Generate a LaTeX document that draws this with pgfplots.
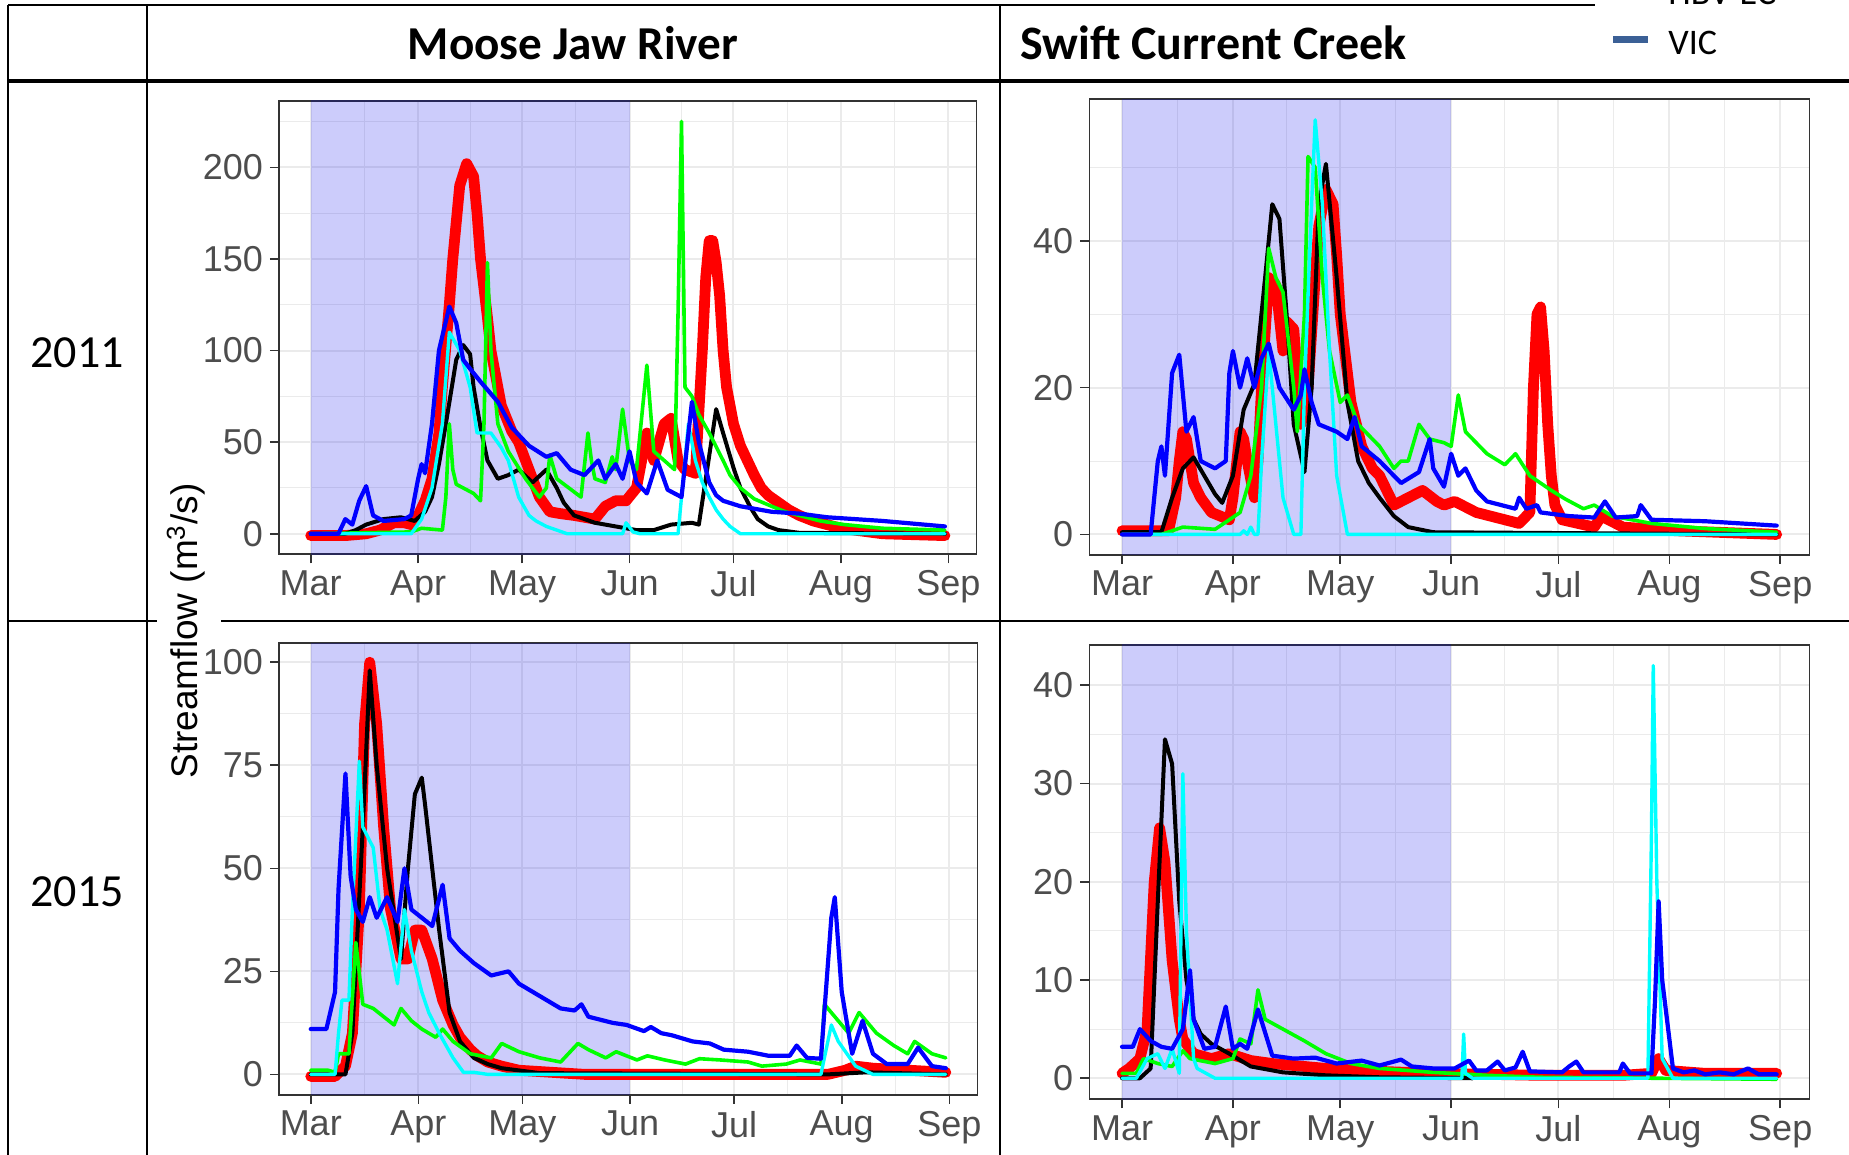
\documentclass[border=0pt]{standalone}
\usepackage{fontspec}
\setmainfont{Liberation Sans}
\newfontfamily\carlito{Carlito}
\usepackage{pgfplots}
\pgfplotsset{compat=1.18}
\definecolor{gray20}{RGB}{51,51,51}
\definecolor{gray30}{RGB}{77,77,77}
\definecolor{gridc}{RGB}{235,235,235}
\definecolor{vicblue}{RGB}{59,96,150}
\definecolor{shade}{RGB}{0,0,235}
\definecolor{lgreen}{RGB}{0,255,0}
\definecolor{lcyan}{RGB}{0,255,255}
\definecolor{lblue}{RGB}{0,0,255}
\definecolor{lred}{RGB}{255,0,0}
\pgfplotsset{
  panel/.style={
    scale only axis, anchor=north west,
    xmin=-9.15, xmax=192.15,
    axis line style={draw=gray20, line width=0.8pt},
    xtick={0,31,61,92,122,153,184},
    xticklabels={Mar,Apr,May,Jun,Jul,Aug,Sep},
    minor xtick={15.5,46,76.5,107,137.5,168.5},
    grid=both,
    major grid style={draw=gridc, line width=1pt},
    minor grid style={draw=gridc, line width=0.5pt},
    tick align=outside, tick pos=left,
    major tick length=4.5pt, minor tick length=0pt,
    major tick style={draw=gray20, line width=0.8pt},
    ticklabel style={font=\fontsize{18}{20}\selectfont, text=gray30},
    /pgf/number format/assume math mode=true,
    every axis plot/.append style={line join=round, line cap=round},
  },
  shadeplot/.style={draw=none, fill=shade, fill opacity=0.2, forget plot},
  obs/.style={lred, line width=5.4pt},
  sblack/.style={black, line width=2pt},
  sgreen/.style={lgreen, line width=1.8pt},
  scyan/.style={lcyan, line width=1.7pt},
  sblue/.style={lblue, line width=2.1pt},
}
\begin{document}
\begin{tikzpicture}[x=0.5pt,y=0.5pt]
\useasboundingbox (0,0) rectangle (1849,1155);
\clip (0,0) rectangle (1849,1155);
% table grid
\draw[line width=1pt] (8,1150) -- (1595,1150);
\draw[line width=1pt] (8,1150) -- (8,-5);
\draw[line width=1pt] (146.7,1150) -- (146.7,-5);
\draw[line width=1pt] (1000,1150) -- (1000,-5);
\draw[line width=1pt] (8,534) -- (157,534);
\draw[line width=1pt] (221,534) -- (1855,534);
% legend (cut off)
\fill[white] (1595,1077) rectangle (1855,1160);
\draw[vicblue, line width=3.5pt] (1613,1115) -- (1648,1115);
\node[anchor=base west, inner sep=0pt, font=\carlito\fontsize{18}{20}\selectfont] at (1668,1100) {VIC};
\node[anchor=base west, inner sep=0pt, font=\carlito\fontsize{18}{20}\selectfont] at (1668,1150) {HBV-EC};
\draw[line width=2pt] (8,1074) -- (1855,1074);
% headers
\node[anchor=base, inner sep=0pt, font=\carlito\bfseries\fontsize{23.6}{26}\selectfont] at (573,1095) {Moose Jaw River};
\node[anchor=base west, inner sep=0pt, font=\carlito\bfseries\fontsize{24}{26}\selectfont] at (1020,1095) {Swift Current Creek};
\node[anchor=base, inner sep=0pt, font=\carlito\fontsize{23}{25}\selectfont] at (77,787) {2011};
\node[anchor=base, inner sep=0pt, font=\carlito\fontsize{23}{25}\selectfont] at (77,248.5) {2015};
\node[rotate=90, inner sep=0pt, font=\fontsize{18.5}{20}\selectfont] at (186,524) {Streamflow (m\textsuperscript{3}/s)};

% ---------------- Moose Jaw 2011
\begin{axis}[panel, at={(139.5pt,527pt)}, width=348.8pt, height=226.65pt,
  ymin=-11.2, ymax=236.2, ytick={0,50,100,150,200}, minor ytick={25,75,125,175,225}]
\addplot[shadeplot] coordinates {(0,-20) (92,-20) (92,300) (0,300)} -- cycle;
\addplot[obs] coordinates {(0,-1)(10,-1)(16,0)(20,2)(24,6)(27,6)(29,5)(31,10)(33,18)(35,30)(37,55)(38,80)(40,125)(41,150)(43,190)(45,202)(47,195)(48,175)(49,150)(51,118)(52,100)(54,80)(55,70)(58,56)(60,50)(63,35)(66,20)(69,12)(72,11)(76,10)(79,9)(82,8)(85,15)(88,18)(91,18)(94,25)(96,45)(97,55)(99,40)(102,60)(104,63)(106,40)(108,35)(111,33)(113,100)(114,140)(115,160)(116,160)(117,148)(118,130)(119,100)(120,80)(122,60)(124,48)(126,40)(128,32)(130,25)(132,21)(135,17)(138,13)(141,10)(145,7)(149,5)(153,3)(157,2)(165,0)(183,-1)};
\addplot[sblack] coordinates {(0,0)(10,0)(13,2)(16,5)(21,8)(26,9)(30,7)(33,12)(35,20)(37,38)(39,60)(42,95)(44,103)(46,98)(47,80)(49,58)(51,40)(54,30)(57,32)(60,35)(64,28)(68,35)(71,25)(73,17)(76,10)(82,6)(88,4)(94,2)(99,2)(104,5)(110,6)(112,5)(114,30)(117,68)(119,55)(122,36)(124,25)(127,14)(129,8)(132,4)(135,2)(141,0.5)(183,0)};
\addplot[sgreen] coordinates {(0,0)(29,1)(32,3)(38,2)(39,20)(40,60)(41,35)(42,27)(44,25)(47,22)(49,18)(50,60)(51,148)(52,100)(54,60)(57,45)(62,30)(66,20)(68,25)(69,43)(71,30)(78,20)(80,55)(81,40)(82,30)(85,28)(87,42)(88,35)(90,68)(92,40)(94,35)(97,92)(99,45)(102,40)(105,35)(106,120)(107,225)(108,80)(110,75)(112,65)(115,55)(119,40)(121,32)(124,25)(128,19)(133,15)(137,12)(141,10)(147,7)(154,5)(165,3)(183,2)};
\addplot[scyan] coordinates {(0,0)(29,0)(32,8)(35,25)(38,60)(40,110)(43,100)(46,80)(48,55)(52,55)(55,47)(57,40)(60,20)(63,10)(65,7)(68,4)(74,0)(90,0)(91,6)(93,1)(95,0)(106,0)(108,40)(109,60)(111,40)(113,28)(115,20)(117,13)(119,8)(121,4)(124,0)(183,0)};
\addplot[sblue] coordinates {(0,0)(8,0)(10,8)(12,5)(14,18)(16,26)(18,10)(21,7)(27,8)(29,10)(31,30)(32,38)(33,33)(35,60)(37,100)(40,124)(42,115)(44,95)(46,90)(49,83)(54,72)(58,58)(63,48)(68,42)(71,44)(75,35)(79,32)(83,40)(85,30)(88,38)(90,30)(92,45)(94,28)(97,22)(100,40)(103,24)(107,20)(110,72)(112,50)(115,28)(117,21)(119,18)(124,15)(133,12)(141,11)(149,9)(165,7)(183,4)};
\end{axis}

% ---------------- Swift Current 2011
\begin{axis}[panel, at={(544.65pt,527.85pt)}, width=360.05pt, height=227.85pt,
  ymin=-2.8, ymax=59.3, ytick={0,20,40}, minor ytick={10,30,50}]
\addplot[shadeplot] coordinates {(0,-20) (92,-20) (92,300) (0,300)} -- cycle;
\addplot[obs] coordinates {(0,0.5)(13,0.5)(15,5)(16,10)(17,14)(18,13)(19,10)(20,7)(22,5)(25,3)(30,2)(31,5)(33,14)(34,13)(35,10)(37,5)(38,10)(39,20)(41,35)(43,34)(45,25)(46,29)(48,28)(50,15)(52,20)(54,35)(55,42)(57,47)(59,45)(60,38)(61,30)(64,18)(67,12)(70,9)(72,8)(76,4)(80,5)(84,6)(88,4.5)(90,4)(93,4.5)(95,4)(99,3)(103,2.5)(107,2)(111,1.5)(114,3)(115,20)(116,30)(117,31)(118,25)(119,15)(120,8)(121,4)(123,2)(132,1)(134,2.5)(140,1)(155,0.5)(183,0)};
\addplot[sblack] coordinates {(0,0.3)(11,0.3)(14,5)(17,9)(20,10.5)(23,8)(26,5.5)(28,4.3)(31,8)(34,17)(37,20.5)(40,35)(42,45)(44,43)(46,30)(48,15)(51,8.5)(53,20)(55,45)(57,50.5)(60,35)(63,18)(66,10)(69,7)(72,5)(76,2.5)(80,1)(87,0.3)(183,0)};
\addplot[sgreen] coordinates {(0,0)(11,0)(17,1)(26,0.7)(30,2)(33,3)(36,8)(39,20)(41,39)(43,35)(45,33)(48,20)(49,14)(51,30)(52,51.5)(54,50)(56,35)(58,25)(61,18)(63,19)(66,15)(72,12)(76,9)(78,10)(80,10)(83,15)(86,13)(90,12.5)(92,12)(94,19)(96,14)(102,11)(107,9.5)(110,11)(114,8)(120,6)(124,4.8)(129,3.5)(132,4)(137,2.5)(148,1.5)(163,0.8)(183,0.3)};
\addplot[scyan] coordinates {(0,0)(33,0)(34,0.5)(35,0)(36,1)(37,0)(38,0)(39,10)(41,25)(42,20)(45,5)(48,0)(50,0)(51,20)(53,45)(54,56.5)(56,45)(58,25)(60,8)(63,0)(183,0)};
\addplot[sblue] coordinates {(0,0)(8,0)(10,10)(11,12)(12,8)(14,22)(16,24.5)(18,14)(20,16)(22,10)(26,9)(29,10)(30,22)(31,25)(33,20)(35,24)(37,20)(39,24)(41,26)(44,20)(48,17)(50,19)(51,22.5)(53,18)(55,15)(60,14)(63,13)(65,16)(67,12)(72,10)(78,7)(83,8.5)(86,13)(87,9)(90,6.5)(92,11)(94,8)(96,9)(99,6)(102,4.5)(110,3.5)(111,5)(113,3.5)(116,4)(117,3)(125,2.5)(132,2.3)(135,4.5)(138,2.3)(144,2.5)(145,4)(148,2)(163,1.8)(183,1.2)};
\end{axis}

% ---------------- Moose Jaw 2015
\begin{axis}[panel, at={(139.5pt,255.85pt)}, width=349.3pt, height=225.85pt,
  ymin=-5, ymax=104.6, ytick={0,25,50,75,100}, minor ytick={12.5,37.5,62.5,87.5}]
\addplot[shadeplot] coordinates {(0,-20) (92,-20) (92,300) (0,300)} -- cycle;
\addplot[obs] coordinates {(0,-0.5)(7,-0.5)(10,2)(12,10)(14,40)(15.5,85)(17,100)(19,85)(21,60)(23,40)(26,28)(28,28)(30,35)(32,35)(35,28)(38,18)(41,12)(43,9)(46,6)(48,4.5)(51,3)(55,2)(60,1)(79,0)(149,0)(154,1)(157,2)(162,1.5)(183,0.5)};
\addplot[sblack] coordinates {(0,0)(10,0)(12,10)(15,60)(17,98)(19,75)(22,50)(26,28)(28,50)(30,68)(32,72)(33,65)(35,50)(37,35)(40,15)(43,8)(47,4)(51,2.5)(55,1.5)(66,0.3)(149,0)(160,0.5)(183,0)};
\addplot[sgreen] coordinates {(0,1)(5,1)(7,0.5)(8,5)(11,5)(13,32)(15,17)(18,16)(21,14)(24,12)(26,16)(29,13)(32,11)(36,9)(38,11)(41,8)(46,5)(52,4)(55,7.5)(60,5.5)(66,4)(72,3)(77,7.5)(80,6)(85,4)(88,5.5)(94,3.5)(97,4.5)(102,3.5)(108,2.5)(112,3.8)(118,3.5)(126,3)(130,2)(137,2.5)(141,3.5)(147,2.5)(148,17)(151,14)(155,10)(158,15)(161,12)(163,10)(168,7)(172,5)(174,8)(179,5)(183,4)};
\addplot[scyan] coordinates {(0,0)(7,0)(8,10)(9,18)(11,18)(12,40)(14,76)(15,60)(18,55)(20,40)(22,35)(25,22)(27,40)(29,30)(32,20)(34,15)(37,10)(41,4)(44,0.5)(47,0.5)(51,0)(147,0)(150,12)(152,8)(157,2)(162,0)(183,0)};
\addplot[sblue] coordinates {(0,11)(4.5,11)(7,20)(8,45)(10,73)(11.5,48)(13,40)(15,37)(17,43)(19,38)(22,43)(25,37)(27,50)(29,40)(32,38)(35,36)(38,46)(40,33)(43,30)(47,27)(52,24)(57,25)(60,22)(66,19)(72,16)(76,15.5)(78,17)(80,14)(87,12.5)(91,12)(96,10.5)(98,11.5)(101,10)(104,9.5)(110,8)(115,7.5)(119,6)(126,5.5)(132,4.5)(138,4.5)(140,7)(143,4)(147,3.8)(150,38)(151,43)(153,20)(156,5)(159,13)(162,5)(166,2.5)(172,2.5)(175,6.5)(179,2)(183,1.5)};
\end{axis}

% ---------------- Swift Current 2015
\begin{axis}[panel, at={(544.65pt,255pt)}, width=360.05pt, height=227.15pt,
  ymin=-2.14, ymax=44.1, ytick={0,10,20,30,40}, minor ytick={5,15,25,35}]
\addplot[shadeplot] coordinates {(0,-20) (92,-20) (92,300) (0,300)} -- cycle;
\addplot[obs] coordinates {(0,0.5)(2,1)(5,2)(7,5)(9,20)(10.5,25.5)(12,22)(14,12)(16,6)(17,4)(20,2.5)(25,2)(30,2.5)(36,1.8)(42,1.5)(57,1)(72,0.7)(87,0.5)(102,0.4)(117,0.3)(140,0.3)(148,0.5)(150,2)(152,0.8)(163,0.5)(183,0.5)};
\addplot[sblack] coordinates {(0,0)(5,0)(8,1)(10,18)(12,34.5)(14,32)(16,18)(18,10)(20,6)(22,4.5)(25,3.5)(30,2.5)(36,1.2)(45,0.6)(57,0.3)(72,0.1)(98,0)};
\addplot[sgreen] coordinates {(0,0.5)(4,0.5)(6,2)(10,1.5)(14,1.2)(17,2.8)(19,2)(26,1.5)(31,2)(33,4)(36,3.5)(38,9)(40,6)(45,5)(51,3.8)(57,2.5)(64,1.5)(72,1)(87,0.6)(102,0.3)(117,0.1)(183,-0.1)};
\addplot[scyan] coordinates {(0,0)(4,0)(7,2)(10,2.5)(12,1)(14,3)(16,0.5)(17,31)(18,15)(20,2)(21,1)(26,0)(95,0)(95.5,4.5)(96,0.5)(98,0)(147,0)(148,25)(148.5,42)(149.5,20)(151,2)(154,0)(183,0)};
\addplot[sblue] coordinates {(0,3.2)(3,3.2)(5,5)(8,3.8)(11,3.2)(14,3)(17,5)(19,11)(20,6)(23,3)(26,3.2)(29,7.3)(31,3)(33,3.5)(35,3)(38,7)(42,2.3)(48,2)(54,2.1)(60,1.5)(67,1.8)(72,1.3)(78,1.9)(81,1.2)(87,1)(93,1)(97,1.8)(99,0.8)(102,0.8)(105,1.7)(107,0.8)(110,1.1)(112,2.7)(114,0.7)(123,0.6)(125,1.2)(127,1.7)(129,0.6)(139,0.6)(140,1.5)(142,0.5)(148,0.5)(149,8)(150,18)(151,10)(154,1)(157,0.6)(160,0.8)(163,0.4)(167,0.6)(171,0.4)(175,1)(178,0.4)(183,0.4)};
\end{axis}
\end{tikzpicture}
\end{document}
